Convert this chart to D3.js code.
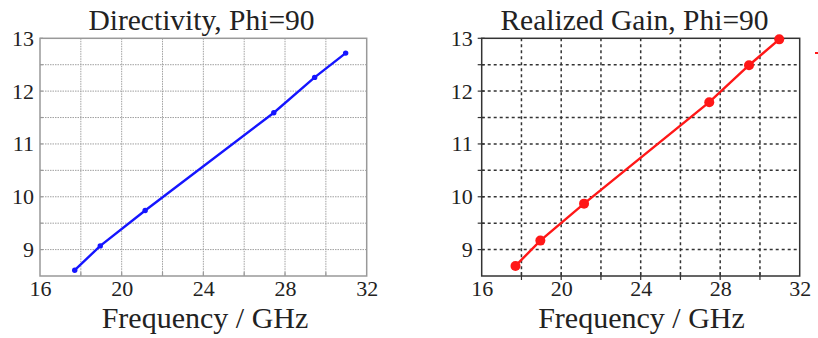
<!DOCTYPE html>
<html>
<head>
<meta charset="utf-8">
<script src="https://cdn.jsdelivr.net/npm/d3@7"></script>
<style>
  body { margin: 0; background: #fff; }
  svg { display: block; }
  text { font-family: "Liberation Serif", "Times New Roman", serif; fill: #222; }
</style>
</head>
<body>
<div id="chart"></div>
<script>
// data
const freqs = [17.7, 18.95, 21.15, 27.45, 29.45, 30.97];
const directivity = [8.61, 9.07, 9.74, 11.59, 12.26, 12.72];
const realizedGain = [8.69, 9.17, 9.87, 11.79, 12.49, 12.98];
const xTicks = [16, 20, 24, 28, 32];
const yTicks = [9, 10, 11, 12, 13];
const xGrid = [18, 20, 22, 24, 26, 28, 30];
const yGrid = [9, 9.5, 10, 10.5, 11, 11.5, 12, 12.5];

const W = 818, H = 338;
const serif = "'Liberation Serif', 'Times New Roman', serif";
const svg = d3.select("#chart").append("svg")
    .attr("width", W)
    .attr("height", H);

function drawPanel(cfg) {
    const x = d3.scaleLinear().domain([16, 32]).range([cfg.left, cfg.right]);
    const y = d3.scaleLinear().domain([8.5, 13]).range([cfg.bottom, cfg.top]);
    const g = svg.append("g");

    // grid
    g.selectAll(".vgrid").data(xGrid).enter().append("line")
        .attr("x1", d => x(d)).attr("x2", d => x(d))
        .attr("y1", cfg.top).attr("y2", cfg.bottom)
        .style("stroke", cfg.gridColor)
        .style("stroke-width", cfg.gridWidth)
        .style("stroke-dasharray", cfg.gridDash);
    g.selectAll(".hgrid").data(yGrid).enter().append("line")
        .attr("x1", cfg.left).attr("x2", cfg.right)
        .attr("y1", d => y(d)).attr("y2", d => y(d))
        .style("stroke", cfg.gridColor)
        .style("stroke-width", cfg.gridWidth)
        .style("stroke-dasharray", cfg.gridDash);

    // axes (labels only, ticks drawn below)
    const xAxis = g.append("g")
        .attr("transform", `translate(0,${cfg.bottom})`)
        .call(d3.axisBottom(x).tickValues(xTicks).tickSize(0).tickPadding(4).tickFormat(d3.format("d")));
    const yAxis = g.append("g")
        .attr("transform", `translate(${cfg.left},0)`)
        .call(d3.axisLeft(y).tickValues(yTicks).tickSize(0).tickPadding(cfg.yPad).tickFormat(d3.format("d")));
    [xAxis, yAxis].forEach(a => {
        a.attr("font-family", serif).attr("font-size", 22);
        a.select(".domain").remove();
        a.selectAll("text")
            .style("font-family", serif)
            .style("font-size", "22px")
            .style("fill", "#222");
    });
    xAxis.selectAll("text").attr("dy", "0.71em");

    // minor ticks
    g.selectAll(".xtick").data(xGrid).enter().append("line")
        .attr("x1", d => x(d)).attr("x2", d => x(d))
        .attr("y1", cfg.bottom + cfg.outTick).attr("y2", cfg.bottom - 4)
        .style("stroke", cfg.frameColor).style("stroke-width", 1.2);
    g.selectAll(".ytick").data(yGrid.concat([13])).enter().append("line")
        .attr("x1", cfg.left - cfg.outTick).attr("x2", cfg.left + 3)
        .attr("y1", d => y(d)).attr("y2", d => y(d))
        .style("stroke", cfg.frameColor).style("stroke-width", 1.2);

    // frame
    g.append("rect")
        .attr("x", cfg.left).attr("y", cfg.top)
        .attr("width", cfg.right - cfg.left).attr("height", cfg.bottom - cfg.top)
        .style("fill", "none")
        .style("stroke", cfg.frameColor)
        .style("stroke-width", 1.5);

    // series
    const pts = freqs.map((f, i) => [f, cfg.values[i]]);
    g.append("path")
        .datum(pts)
        .attr("d", d3.line().x(d => x(d[0])).y(d => y(d[1])))
        .style("fill", "none")
        .style("stroke", cfg.color)
        .style("stroke-width", 2.4);
    g.selectAll(".pt").data(pts).enter().append("circle")
        .attr("cx", d => x(d[0])).attr("cy", d => y(d[1]))
        .attr("r", cfg.markerR)
        .style("fill", cfg.color);

    // titles
    g.append("text")
        .attr("x", cfg.titleX).attr("y", 30)
        .attr("text-anchor", "middle")
        .style("font-size", "29.5px")
        .text(cfg.title);
    g.append("text")
        .attr("x", cfg.labelX).attr("y", 328)
        .attr("text-anchor", "middle")
        .style("font-size", "30px")
        .text("Frequency / GHz");
}

drawPanel({
    left: 40, right: 366.7, top: 38.3, bottom: 276,
    values: directivity, color: "#1515ff", markerR: 2.7,
    gridColor: "#a0a0a0", gridWidth: 1, gridDash: "1.5,1",
    frameColor: "#999", outTick: 0, yPad: 6,
    title: "Directivity, Phi=90", titleX: 201.5, labelX: 205
});

drawPanel({
    left: 481.7, right: 799.7, top: 38.3, bottom: 276,
    values: realizedGain, color: "#ff1717", markerR: 5,
    gridColor: "#333", gridWidth: 1.5, gridDash: "3,3",
    frameColor: "#333", outTick: 4, yPad: 9,
    title: "Realized Gain, Phi=90", titleX: 634.5, labelX: 641.5
});

// clipped legend mark at the right edge
svg.append("line")
    .attr("x1", 815).attr("x2", 818)
    .attr("y1", 53).attr("y2", 53)
    .style("stroke", "#ff1717")
    .style("stroke-width", 2);
</script>
</body>
</html>
